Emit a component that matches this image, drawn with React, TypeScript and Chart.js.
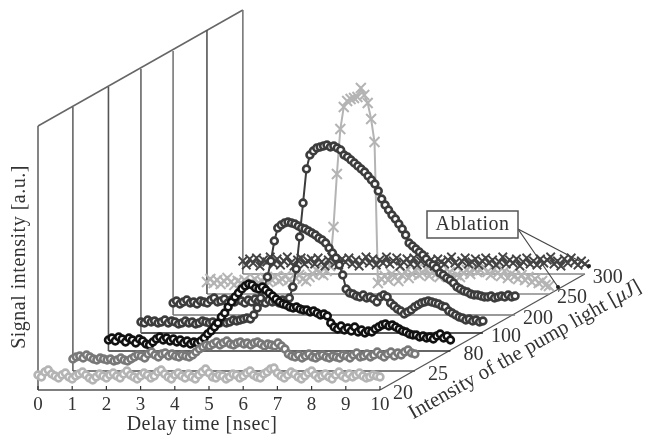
import React, { useEffect, useRef } from "react";
import { Chart, registerables } from "chart.js";

Chart.register(...registerables);

const xTicks = [0, 1, 2, 3, 4, 5, 6, 7, 8, 9, 10];
const pumpLabels = ["20", "25", "80", "100", "200", "250", "300"];

const s20 = [15,13,18,20,16,14,12,15,17,13,11,14,16,18,15,12,10,13,16,14,12,15,17,14,12,16,19,15,13,11,14,17,15,12,14,18,20,16,13,11,15,17,14,12,16,13,11,15,18,21,17,13,12,15,14,11,13,16,15,12,14,17,19,15,13,12,16,18,21,22,17,14,12,15,18,16,13,11,14,17,19,15,12,14,16,13,11,15,18,14,12,16,13,15,17,14,12,13,15,14,13];
const s25 = [12,14,15,13,16,14,12,11,13,12,11,12,10,11,13,11,10,12,14,16,15,13,17,19,16,14,17,18,15,17,15,14,16,15,14,16,19,22,24,26,25,27,29,26,28,30,27,26,28,29,27,28,26,28,29,27,25,27,26,25,28,25,22,17,15,14,16,13,15,17,14,13,15,16,14,13,15,14,13,16,15,13,16,18,14,15,17,14,16,19,16,14,17,19,15,18,16,19,21,18,17];
const s80 = [11,13,10,14,12,9,13,11,8,12,10,7,6,9,12,14,11,13,10,12,9,11,8,10,7,9,8,10,13,17,20,24,28,34,38,44,49,54,58,62,65,67,66,63,62,64,61,58,55,52,49,47,46,44,43,44,42,41,41,39,40,38,36,37,35,28,24,22,25,21,23,20,24,19,21,18,20,19,22,24,26,27,25,26,24,22,20,19,17,16,16,14,15,13,14,12,15,17,13,15,11];
const s100 = [11,10,13,11,12,10,11,13,10,12,11,9,10,12,10,11,9,10,12,11,10,11,9,10,12,10,11,13,12,13,14,15,14,18,25,35,45,56,72,92,105,108,110,111,110,109,107,105,104,102,100,98,95,93,90,85,80,75,68,58,44,40,39,37,36,38,35,36,34,31,36,38,36,30,27,24,22,19,21,23,26,28,30,31,32,31,30,29,27,26,22,20,18,16,15,13,14,12,13,11,12];
const s200 = [12,14,11,13,15,12,13,11,14,13,12,15,17,13,14,16,12,15,13,16,14,12,15,13,16,14,13,12,15,13,14,12,15,13,17,28,46,78,112,146,160,164,167,168,169,170,168,169,167,165,160,158,155,152,149,146,143,139,135,131,124,116,110,105,100,96,91,86,80,72,69,66,63,60,56,52,50,47,42,40,37,35,32,28,26,24,23,21,20,20,19,18,18,19,17,18,19,18,20,18,19];
const s250 = [12,15,11,14,10,13,16,12,9,13,11,14,10,12,15,11,13,16,12,14,17,13,15,18,14,12,16,19,15,13,17,20,24,21,19,23,28,67,120,165,187,193,195,196,197,206,199,191,175,152,11,15,18,14,20,17,13,19,22,16,20,24,19,21,25,18,22,20,17,21,18,22,15,19,17,21,24,20,26,22,24,27,22,19,25,21,18,23,16,20,18,15,19,14,17,12,15,11,13,9,8];
const s300 = [13,9,15,11,16,8,14,12,17,10,15,9,13,17,11,8,14,16,10,13,15,10,16,12,8,14,17,11,9,15,12,16,10,14,8,13,17,11,15,9,14,11,17,10,13,16,8,12,15,10,16,9,13,17,11,14,8,15,12,10,14,17,11,8,13,16,10,12,15,9,13,16,11,14,9,12,17,10,14,11,15,8,12,16,10,13,9,15,11,14,17,10,13,8,15,11,16,12,9,13,10];

const depthShift = [0, 1.02, 2.06, 3.01, 3.95, 4.94, 5.99];
const depthLift = [0, 19, 39, 57, 75, 96, 116];
const wallHeight = 264;
const floorColors = ["#555", "#555", "#333", "#222", "#777", "#888", "#888"];
const wallColors = ["#666", "#666", "#555", "#666", "#777", "#555", "#777"];

const seriesList = [s20, s25, s80, s100, s200, s250, s300];
const seriesStyles = [
  { color: "#b4b4b4", marker: "circle", radius: 3.4, border: 2.6, order: 1 },
  { color: "#787878", marker: "circle", radius: 3.4, border: 2.6, order: 2 },
  { color: "#111111", marker: "circle", radius: 3.4, border: 2.6, order: 3 },
  { color: "#3c3c3c", marker: "circle", radius: 3.4, border: 2.6, order: 4 },
  { color: "#3c3c3c", marker: "circle", radius: 3.4, border: 2.6, order: 5 },
  { color: "#b4b4b4", marker: "crossRot", radius: 7, border: 2, order: 7 },
  { color: "#444444", marker: "crossRot", radius: 6, border: 1.8, order: 6 },
];

const SERIF = '"Liberation Serif", serif';

function scaffoldDatasets() {
  const out: any[] = [];
  const seg = (pts: { x: number; y: number }[], color: string, w = 1.5) =>
    out.push({
      type: "scatter",
      data: pts,
      showLine: true,
      borderColor: color,
      borderWidth: w,
      pointRadius: 0,
      clip: false,
      order: 100,
    });
  depthShift.forEach((dx, i) => {
    const dy = depthLift[i];
    seg([{ x: dx, y: dy }, { x: dx, y: dy + wallHeight }], wallColors[i], 1.6);
    seg([{ x: dx, y: dy }, { x: dx + 10, y: dy }], floorColors[i], 1.5);
  });
  const last = depthShift.length - 1;
  seg([{ x: 0, y: wallHeight }, { x: depthShift[last], y: depthLift[last] + wallHeight }], "#666", 1.5);
  seg([{ x: 10, y: 0 }, { x: 10 + depthShift[last], y: depthLift[last] }], "#555", 1.3);
  return out;
}

function seriesDatasets() {
  return seriesList.map((vals, d) => {
    const st = seriesStyles[d];
    return {
      type: "scatter",
      label: pumpLabels[d],
      data: vals.map((v, i) => ({ x: i / 10 + depthShift[d], y: v + depthLift[d] })),
      showLine: true,
      borderColor: st.color,
      borderWidth: 2,
      pointStyle: st.marker,
      pointRadius: st.radius,
      pointBorderColor: st.color,
      pointBackgroundColor: "#ffffff",
      pointBorderWidth: st.border,
      clip: false,
      order: st.order,
    };
  });
}

const decorations = {
  id: "decorations",
  afterDatasetsDraw(chart: any) {
    const { ctx, scales } = chart;
    const x = scales.x;
    const y = scales.y;
    ctx.save();
    ctx.fillStyle = "#333";
    ctx.strokeStyle = "#333";

    // inward ticks on the base line
    ctx.lineWidth = 1.2;
    xTicks.forEach((t) => {
      const px = x.getPixelForValue(t);
      ctx.beginPath();
      ctx.moveTo(px, y.getPixelForValue(0));
      ctx.lineTo(px, y.getPixelForValue(4));
      ctx.stroke();
    });

    // pump-light tick labels
    ctx.font = `20px ${SERIF}`;
    ctx.textAlign = "center";
    ctx.textBaseline = "middle";
    pumpLabels.forEach((lab, i) => {
      const px = x.getPixelForValue(10 + depthShift[i]) + 23;
      const py = y.getPixelForValue(depthLift[i]) + 4;
      ctx.fillText(lab, px, py);
    });

    // axis titles
    ctx.font = `20px ${SERIF}`;
    ctx.letterSpacing = "0.5px";
    ctx.fillText("Delay time [nsec]", 202, 425);
    ctx.save();
    ctx.translate(20, 257);
    ctx.rotate(-Math.PI / 2);
    ctx.fillText("Signal intensity [a.u.]", 0, 0);
    ctx.restore();
    ctx.letterSpacing = "0px";

    // depth title
    ctx.save();
    ctx.translate(525, 350);
    ctx.rotate((-29.4 * Math.PI) / 180);
    const a = "Intensity of the pump light [";
    const b = "\u03bcJ";
    const c = "]";
    const regular = `21px ${SERIF}`;
    const italic = `italic 21px ${SERIF}`;
    ctx.font = regular;
    const wa = ctx.measureText(a).width;
    const wc = ctx.measureText(c).width;
    ctx.font = italic;
    const wb = ctx.measureText(b).width;
    const start = -(wa + wb + wc) / 2;
    ctx.textAlign = "left";
    ctx.font = regular;
    ctx.fillText(a, start, 0);
    ctx.font = italic;
    ctx.fillText(b, start + wa, 0);
    ctx.font = regular;
    ctx.fillText(c, start + wa + wb, 0);
    ctx.restore();

    // Ablation callout
    ctx.strokeStyle = "#444";
    ctx.lineWidth = 1.2;
    [[589, 266], [558, 287]].forEach(([ex, ey]) => {
      ctx.beginPath();
      ctx.moveTo(518, 229);
      ctx.lineTo(ex, ey);
      ctx.stroke();
      ctx.beginPath();
      ctx.arc(ex, ey, 2, 0, Math.PI * 2);
      ctx.fillStyle = "#222";
      ctx.fill();
    });
    ctx.fillStyle = "#fff";
    ctx.fillRect(427, 211, 91, 27);
    ctx.strokeStyle = "#555";
    ctx.lineWidth = 1.5;
    ctx.strokeRect(427, 211, 91, 27);
    ctx.fillStyle = "#333";
    ctx.textAlign = "center";
    ctx.font = `20px ${SERIF}`;
    ctx.letterSpacing = "0.5px";
    ctx.fillText("Ablation", 472.5, 225);
    ctx.restore();
  },
};

export default function App() {
  const ref = useRef<HTMLCanvasElement | null>(null);
  useEffect(() => {
    document.body.style.margin = "0";
    const chart = new Chart(ref.current as HTMLCanvasElement, {
      type: "scatter",
      data: { datasets: [...scaffoldDatasets(), ...seriesDatasets()] as any },
      options: {
        animation: false,
        responsive: false,
        layout: { padding: { top: 10, right: 28.6, left: 0, bottom: 0 } },
        plugins: { legend: { display: false }, tooltip: { enabled: false } },
        scales: {
          x: {
            type: "linear",
            min: 0,
            max: 17,
            afterBuildTicks(scale: any) {
              scale.ticks = xTicks.map((v) => ({ value: v }));
            },
            afterFit(scale: any) {
              scale.height = 47;
            },
            grid: { display: false, drawTicks: false },
            border: { display: false },
            ticks: {
              autoSkip: false,
              maxRotation: 0,
              padding: 4,
              color: "#333",
              font: { family: "Liberation Serif", size: 19 },
            },
          },
          y: {
            type: "linear",
            min: 0,
            max: 380,
            afterFit(scale: any) {
              scale.width = 38;
            },
            grid: { display: false },
            border: { display: false },
            ticks: { display: false },
          },
        },
      } as any,
      plugins: [decorations],
    });
    return () => chart.destroy();
  }, []);
  return (
    <canvas
      ref={ref}
      width={648}
      height={437}
      style={{ position: "fixed", left: 0, top: 0, display: "block" }}
    />
  );
}
